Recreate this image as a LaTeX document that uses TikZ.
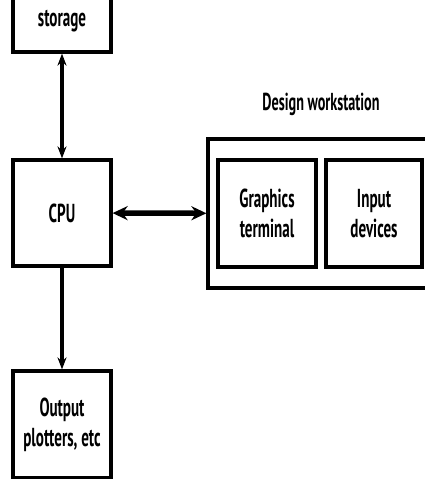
\documentclass[tikz,border=0pt]{standalone}
\usepackage{fontspec}
\setmainfont{PT Sans}[FakeStretch=0.58]
\usetikzlibrary{arrows.meta}

\begin{document}
\begin{tikzpicture}[x=1pt, y=-1pt, font=\fontsize{26}{30}\selectfont\bfseries,
    box/.style={draw=black, line width=3.2pt, minimum width=98pt, align=center, inner sep=0pt},
    link/.style={line width=3.2pt}]
    \useasboundingbox (0,0) rectangle (425,479);
    \clip (0,0) rectangle (425,479);
    \node[box, minimum height=62pt] (storage) at (62,21) {storage};
    \node[box, minimum height=106pt] (cpu) at (62,213) {CPU};
    \node[box, minimum height=107pt] (output) at (62,424.5) {Output\\plotters, etc};
    \node[box, minimum width=240pt, minimum height=149pt] (ws) at (328,213.5) {};
    \node[font=\fontsize{24.5}{28}\selectfont\bfseries] (wslabel) at (321,104) {Design workstation};
    \node[box, minimum height=107pt] (term) at (267,213.5) {Graphics\\terminal};
    \node[box, minimum width=96pt, minimum height=107pt] (input) at (374,213.5) {Input\\devices};
    \draw[link, {Stealth[length=12pt,width=9pt]}-{Stealth[length=12pt,width=9pt]}] (storage) -- (cpu);
    \draw[link, -{Stealth[length=12pt,width=9pt]}] (cpu) -- (output);
    \draw[link, line width=5.5pt, {Stealth[length=15pt,width=14pt]}-{Stealth[length=15pt,width=14pt]}] (cpu) -- (ws);
\end{tikzpicture}
\end{document}
